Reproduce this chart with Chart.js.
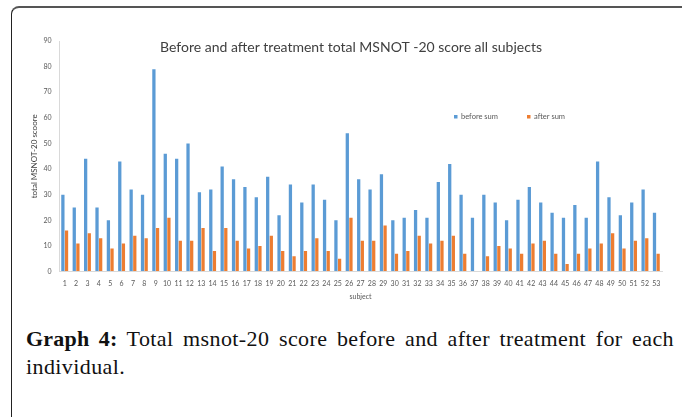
<!DOCTYPE html>
<html>
<head>
<meta charset="utf-8">
<script src="https://cdn.jsdelivr.net/npm/chart.js@4.4.1/dist/chart.umd.min.js"></script>
<style>
  html, body { margin: 0; padding: 0; background: #fff; }
  body { width: 683px; height: 417px; position: relative; overflow: hidden; }
  #frame { position: absolute; left: 11px; top: 6px; width: 671px; height: 420px;
           border-top: 2px solid #555; border-left: 1.5px solid #222; border-top-left-radius: 8px; box-sizing: border-box; }
  #wrap { position: absolute; left: 0; top: 0; width: 683px; height: 308px; }
  #caption { position: absolute; left: 26px; top: 325px; width: 648px;
             font-family: "Liberation Serif", serif; font-size: 22px; line-height: 28px; letter-spacing: 0.4px;
             text-align: justify; color: #111; }
  #caption b { font-weight: bold; letter-spacing: 0.2px; }
</style>
</head>
<body>
<div id="frame"></div>
<div id="wrap"><canvas id="c"></canvas></div>
<div id="caption"><b>Graph 4:</b> Total msnot-20 score before and after treatment for each individual.</div>
<script>
const categories = ['1','2','3','4','5','6','7','8','9','10','11','12','13','14','15','16','17','18','19','20',
  '21','22','23','24','25','26','27','28','29','30','31','32','33','34','35','36','37','38','39','40',
  '41','42','43','44','45','46','47','48','49','50','51','52','53'];
const beforeSum = [30,25,44,25,20,43,32,30,79,46,44,50,31,32,41,36,33,29,37,22,
  34,27,34,28,20,54,36,32,38,20,21,24,21,35,42,30,21,30,27,20,
  28,33,27,23,21,26,21,43,29,22,27,32,23];
const afterSum = [16,11,15,13,9,11,14,13,17,21,12,12,17,8,17,12,9,10,14,8,
  6,8,13,8,5,21,12,12,18,7,8,14,11,12,14,7,0,6,10,9,
  7,11,12,7,3,7,9,11,15,9,12,13,7];
const yTicks = [0,10,20,30,40,50,60,70,80,90];
const seriesNames = ['before sum', 'after sum'];
const chartTitle = 'Before and after treatment total MSNOT -20 score all subjects';
const yTitle = 'total MSNOT-20 scoore';
const xTitle = 'subject';

const FONT = 'Lato';

const overlay = {
  id: 'overlay',
  afterDraw(chart) {
    const ctx = chart.ctx;
    ctx.save();
    ctx.font = '14px ' + FONT;
    ctx.fillStyle = '#404040';
    ctx.textAlign = 'center';
    ctx.textBaseline = 'middle';
    ctx.fillText(chartTitle, 351, 47);
    const items = [{x: 454, tx: 461}, {x: 527, tx: 534}];
    ctx.font = '7.5px ' + FONT;
    ctx.textAlign = 'left';
    chart.data.datasets.forEach((ds, i) => {
      ctx.fillStyle = ds.backgroundColor;
      ctx.fillRect(items[i].x, 115, 3.5, 3.5);
      ctx.fillStyle = '#595959';
      ctx.fillText(ds.label, items[i].tx, 117);
    });
    ctx.restore();
  }
};

new Chart(document.getElementById('c'), {
  type: 'bar',
  data: {
    labels: categories,
    datasets: [
      { label: seriesNames[0], data: beforeSum, backgroundColor: '#5B9BD5' },
      { label: seriesNames[1], data: afterSum, backgroundColor: '#ED7D31' }
    ]
  },
  options: {
    responsive: true,
    maintainAspectRatio: false,
    animation: false,
    layout: { padding: { left: 25.3, right: 21, top: 41, bottom: 7 } },
    datasets: { bar: { categoryPercentage: 0.64, barPercentage: 0.9 } },
    plugins: { legend: { display: false }, title: { display: false }, tooltip: { enabled: false } },
    scales: {
      x: {
        grid: { display: true, drawOnChartArea: false, drawTicks: false },
        border: { display: true, color: '#d9d9d9', width: 1 },
        ticks: { autoSkip: false, maxRotation: 0, minRotation: 0, padding: 7.8,
                 color: '#595959', font: { family: FONT, size: 7 } },
        title: { display: true, text: xTitle, color: '#595959', padding: { top: -3, bottom: 0 },
                 font: { family: FONT, size: 7 } }
      },
      y: {
        min: 0, max: 90,
        afterBuildTicks(scale) { scale.ticks = yTicks.map(v => ({ value: v })); },
        grid: { display: true, drawOnChartArea: false, drawTicks: false },
        border: { display: true, color: '#d9d9d9', width: 1 },
        ticks: { padding: 7.5, color: '#595959', font: { family: FONT, size: 7 } },
        title: { display: true, text: yTitle, color: '#404040', padding: { top: 4, bottom: -3 },
                 font: { family: FONT, size: 8 } }
      }
    }
  },
  plugins: [overlay]
});
</script>
</body>
</html>
